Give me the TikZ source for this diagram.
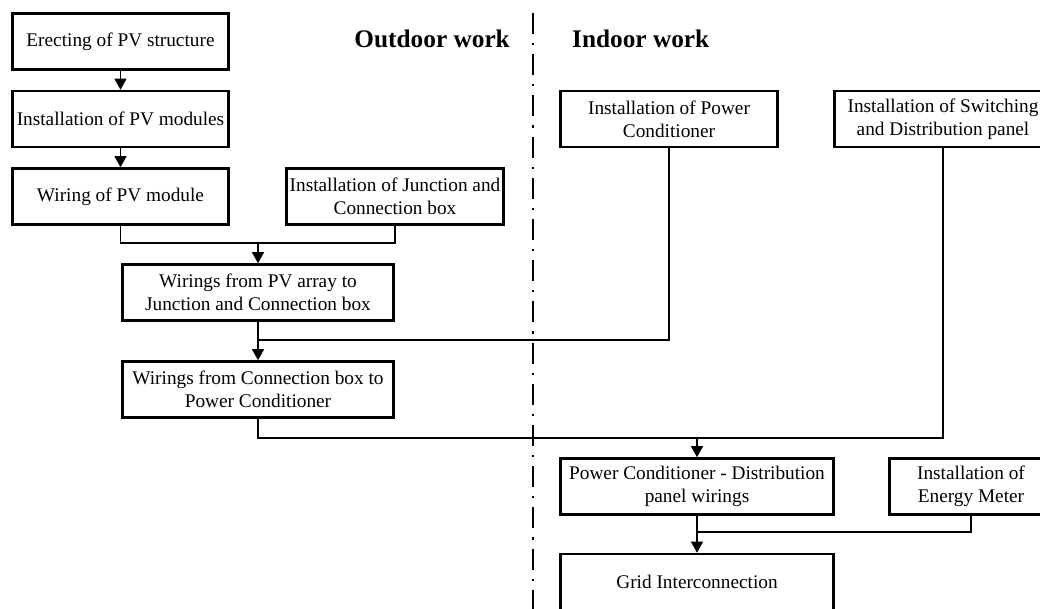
\documentclass[tikz,border=0pt]{standalone}
\usepackage{fontspec}
\setmainfont{Liberation Serif}
\usetikzlibrary{arrows.meta}
\begin{document}
\begin{tikzpicture}[x=1pt,y=-1pt,
  box/.style={draw,line width=2.6pt,fill=white,rectangle,align=center,inner sep=0pt,
    font=\fontsize{19.3}{23}\selectfont},
  wire/.style={line width=1.2pt},
  arr/.style={line width=1.2pt,-{Triangle[width=12pt,length=11pt]}},
  head/.style={font=\fontsize{25.3}{28}\selectfont\bfseries,inner sep=0pt}]
\useasboundingbox (0,0) rectangle (1040,608);
% divider
\draw[line width=2pt,dash pattern=on 21pt off 9pt on 2.2pt off 9pt] (533,13) -- (533,612);
\node[head,anchor=base east] (out) at (510,47) {Outdoor work};
\node[head,anchor=base west] (in) at (572,47) {Indoor work};
% outdoor boxes
\node[box,minimum width=216pt,minimum height=56pt] (b1) at (120.5,41.5) {Erecting of PV structure};
\node[box,minimum width=216pt,minimum height=56pt] (b2) at (120.5,119) {Installation of PV modules};
\node[box,minimum width=216pt,minimum height=56pt] (b3) at (120.5,196.5) {Wiring of PV module};
\node[box,minimum width=217pt,minimum height=56pt] (b4) at (395,196.5) {Installation of Junction and\\Connection box};
\node[box,minimum width=271pt,minimum height=56pt] (b5) at (258,292.5) {Wirings from PV array to\\Junction and Connection box};
\node[box,minimum width=271pt,minimum height=56pt] (b6) at (258,389.5) {Wirings from Connection box to\\Power Conditioner};
% indoor boxes
\node[box,minimum width=217pt,minimum height=56pt] (p1) at (669,119) {Installation of Power\\Conditioner};
\node[box,minimum width=217pt,minimum height=56pt] (s1) at (943,119) {Installation of Switching\\and Distribution panel};
\node[box,minimum width=273pt,minimum height=56pt] (b7) at (697,486.5) {Power Conditioner - Distribution\\panel wirings};
\node[box,minimum width=163pt,minimum height=56pt] (m1) at (971,486.5) {Installation of\\Energy Meter};
\node[box,minimum width=273pt,minimum height=56pt] (g1) at (697,582) {Grid Interconnection};
% junction coordinates
\coordinate (j1) at (258,243);
\coordinate (j2) at (258,340);
\coordinate (j3) at (697,438);
\coordinate (j4) at (697,532);
% connectors
\draw[arr] (b1.south) -- (b2.north);
\draw[arr] (b2.south) -- (b3.north);
\draw[wire] (b3.south) |- (j1) -| (b4.south);
\draw[arr] (j1) -- (b5.north);
\draw[arr] (b5.south) -- (b6.north);
\draw[wire] (p1.south) |- (j2);
\draw[wire] (b6.south) |- (j3) -| (s1.south);
\draw[arr] (j3) -- (b7.north);
\draw[arr] (b7.south) -- (g1.north);
\draw[wire] (m1.south) |- (j4);
\end{tikzpicture}
\end{document}
